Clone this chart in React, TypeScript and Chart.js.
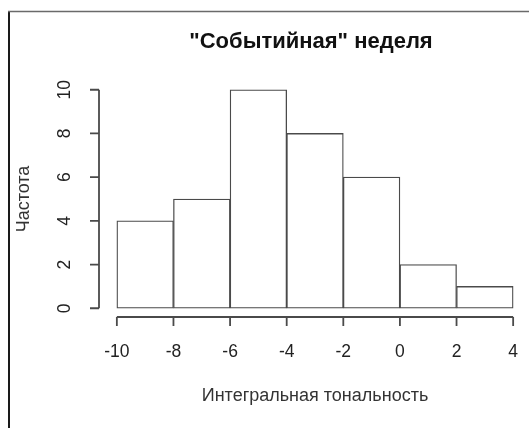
import React, { useEffect, useRef } from "react";
import { Chart, registerables } from "chart.js";

Chart.register(...registerables);

// Histogram bins (edges) and counts per bin
const binEdges = [-10, -8, -6, -4, -2, 0, 2, 4];
const counts = [4, 5, 10, 8, 6, 2, 1];
const xTicks = [-10, -8, -6, -4, -2, 0, 2, 4];
const yTicks = [0, 2, 4, 6, 8, 10];

const titleText = '"Событийная" неделя';
const xTitle = "Интегральная тональность";
const yTitle = "Частота";

const W = 529;
const H = 428;

// R-style axes, titles and frame drawn on top of the bars
const baseGraphics = {
  id: "baseGraphics",
  afterDraw(chart: any) {
    const ctx = chart.ctx as CanvasRenderingContext2D;
    const xs = chart.scales.x;
    const ys = chart.scales.y;
    const area = chart.chartArea;
    ctx.save();

    // outer frame (left and top edges)
    ctx.strokeStyle = "#1a1a1a";
    ctx.lineWidth = 2;
    ctx.beginPath();
    ctx.moveTo(9, 11);
    ctx.lineTo(9, H);
    ctx.stroke();
    ctx.strokeStyle = "#6a6a6a";
    ctx.lineWidth = 1.5;
    ctx.beginPath();
    ctx.moveTo(8, 11.5);
    ctx.lineTo(W, 11.5);
    ctx.stroke();

    const axisColor = "#4a4a4a";
    ctx.strokeStyle = axisColor;
    ctx.lineWidth = 1.8;

    // x axis
    const xAxisY = area.bottom;
    const x0 = xs.getPixelForValue(xTicks[0]);
    const x1 = xs.getPixelForValue(xTicks[xTicks.length - 1]);
    ctx.beginPath();
    ctx.moveTo(x0, xAxisY);
    ctx.lineTo(x1, xAxisY);
    for (const t of xTicks) {
      const px = xs.getPixelForValue(t);
      ctx.moveTo(px, xAxisY);
      ctx.lineTo(px, xAxisY + 9);
    }
    ctx.stroke();

    // y axis
    const yAxisX = area.left - 2;
    const y0 = ys.getPixelForValue(yTicks[0]);
    const y1 = ys.getPixelForValue(yTicks[yTicks.length - 1]);
    ctx.beginPath();
    ctx.moveTo(yAxisX, y0);
    ctx.lineTo(yAxisX, y1);
    for (const t of yTicks) {
      const py = ys.getPixelForValue(t);
      ctx.moveTo(yAxisX, py);
      ctx.lineTo(yAxisX - 9, py);
    }
    ctx.stroke();

    // tick labels
    ctx.fillStyle = "#222";
    ctx.textAlign = "center";
    ctx.textBaseline = "middle";
    ctx.font = '17.5px "Liberation Sans", Arial, sans-serif';
    for (const t of xTicks) {
      ctx.fillText(String(t), xs.getPixelForValue(t), 352);
    }
    for (const t of yTicks) {
      ctx.save();
      ctx.translate(65, ys.getPixelForValue(t));
      ctx.rotate(-Math.PI / 2);
      ctx.fillText(String(t), 0, 0);
      ctx.restore();
    }

    // axis titles
    const midX = (area.left + area.right) / 2;
    ctx.font = '18px "Liberation Sans", Arial, sans-serif';
    ctx.fillStyle = "#333";
    ctx.fillText(xTitle, midX, 396);
    ctx.save();
    ctx.translate(24, (area.top + area.bottom) / 2);
    ctx.rotate(-Math.PI / 2);
    ctx.fillText(yTitle, 0, 0);
    ctx.restore();

    // main title
    ctx.fillStyle = "#111";
    ctx.font = 'bold 22px "Liberation Sans", Arial, sans-serif';
    ctx.fillText(titleText, midX - 4, 42);

    ctx.restore();
  },
};

export default function App() {
  const canvasRef = useRef<HTMLCanvasElement | null>(null);

  useEffect(() => {
    if (!canvasRef.current) return;
    const span = binEdges[binEdges.length - 1] - binEdges[0];
    const maxCount = Math.max(...counts);
    const data = counts.map((c, i) => ({
      x: (binEdges[i] + binEdges[i + 1]) / 2,
      y: c,
    }));
    const chart = new Chart(canvasRef.current, {
      type: "bar",
      data: {
        datasets: [
          {
            data,
            backgroundColor: "#ffffff",
            borderColor: "#4a4a4a",
            borderWidth: 1.3,
            borderSkipped: false,
            barPercentage: 1,
            categoryPercentage: 1,
          },
        ],
      },
      options: {
        animation: false,
        responsive: false,
        maintainAspectRatio: false,
        layout: { padding: { left: 101, right: 0, top: 81, bottom: 111 } },
        plugins: {
          legend: { display: false },
          tooltip: { enabled: false },
          title: { display: false },
        },
        scales: {
          x: {
            type: "linear",
            display: false,
            offset: false,
            min: binEdges[0] - 0.04 * span,
            max: binEdges[binEdges.length - 1] + 0.04 * span,
          },
          y: {
            type: "linear",
            display: false,
            min: -0.04 * maxCount,
            max: maxCount * 1.04,
          },
        },
      },
      plugins: [baseGraphics],
    });
    return () => chart.destroy();
  }, []);

  return (
    <div
      style={{
        position: "fixed",
        left: 0,
        top: 0,
        width: W,
        height: H,
        background: "#fff",
      }}
    >
      <canvas ref={canvasRef} width={W} height={H} style={{ width: W, height: H }} />
    </div>
  );
}
